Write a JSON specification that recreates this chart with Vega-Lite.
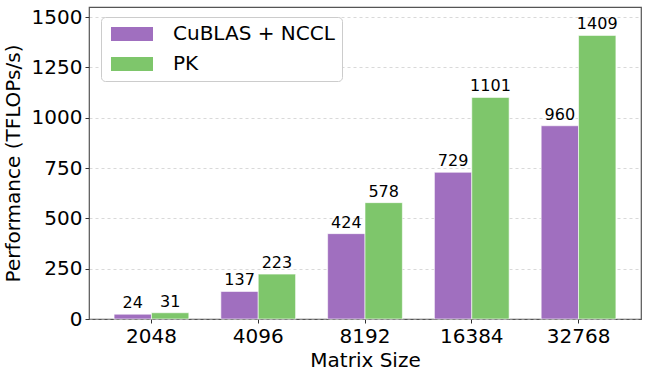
{
  "$schema": "https://vega.github.io/schema/vega-lite/v6.json",
  "autosize": {"type": "none"},
  "width": 552,
  "height": 312,
  "padding": {"left": 89, "top": 7, "right": 7, "bottom": 58},
  "config": {
    "font": "DejaVu Sans",
    "view": {"stroke": "#555", "strokeWidth": 1.2},
    "axis": {"labelFont": "DejaVu Sans", "titleFont": "DejaVu Sans", "labelColor": "#000", "titleColor": "#000", "titleFontWeight": "normal", "domainColor": "#333", "tickColor": "#333"}
  },
  "data": {
    "values": [
      {"size": "2048", "method": "CuBLAS + NCCL", "tflops": 24},
      {"size": "2048", "method": "PK", "tflops": 31},
      {"size": "4096", "method": "CuBLAS + NCCL", "tflops": 137},
      {"size": "4096", "method": "PK", "tflops": 223},
      {"size": "8192", "method": "CuBLAS + NCCL", "tflops": 424},
      {"size": "8192", "method": "PK", "tflops": 578},
      {"size": "16384", "method": "CuBLAS + NCCL", "tflops": 729},
      {"size": "16384", "method": "PK", "tflops": 1101},
      {"size": "32768", "method": "CuBLAS + NCCL", "tflops": 960},
      {"size": "32768", "method": "PK", "tflops": 1409}
    ]
  },
  "encoding": {
    "x": {
      "field": "size", "type": "nominal", "sort": null,
      "scale": {"paddingInner": 0.3, "paddingOuter": 0.235},
      "axis": {"title": "Matrix Size", "labelAngle": 0, "labelFontSize": 20, "titleFontSize": 20, "labelPadding": 3, "titlePadding": 4, "tickSize": 4, "domain": false}
    },
    "xOffset": {"field": "method", "type": "nominal", "sort": ["CuBLAS + NCCL", "PK"]},
    "y": {
      "field": "tflops", "type": "quantitative",
      "scale": {"domain": [0, 1550], "nice": false},
      "axis": {"title": "Performance (TFLOPs/s)", "format": "d", "values": [0, 250, 500, 750, 1000, 1250, 1500], "labelFontSize": 20, "titleFontSize": 20, "tickSize": 4, "labelPadding": 3, "titlePadding": 8, "domain": false, "grid": true, "gridColor": "#bbbbbb", "gridDash": [3, 3], "gridOpacity": 0.7, "gridWidth": 0.8}
    }
  },
  "layer": [
    {
      "mark": {"type": "bar", "stroke": "white", "strokeWidth": 0.6},
      "encoding": {
        "color": {
          "field": "method", "type": "nominal", "sort": ["CuBLAS + NCCL", "PK"],
          "scale": {"domain": ["CuBLAS + NCCL", "PK"], "range": ["#a06fbf", "#7ec66b"]},
          "legend": {
            "title": null, "orient": "none", "legendX": 12, "legendY": 10,
            "labelFontSize": 20, "labelFont": "DejaVu Sans", "labelColor": "#000", "labelLimit": 400,
            "symbolType": "M-3,-1H3V1H-3Z", "symbolSize": 196, "symbolStrokeWidth": 0,
            "symbolOffset": 14, "labelOffset": 31, "rowPadding": 10,
            "padding": 7, "fillColor": "white", "strokeColor": "#cccccc", "cornerRadius": 4
          }
        }
      }
    },
    {
      "mark": {"type": "text", "baseline": "bottom", "dy": -3, "fontSize": 16, "font": "DejaVu Sans", "color": "#000"},
      "encoding": {"text": {"field": "tflops", "type": "quantitative"}}
    }
  ]
}
